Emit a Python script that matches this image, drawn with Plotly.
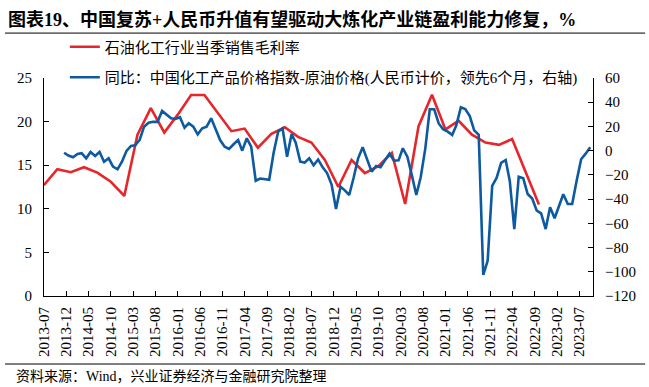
import pandas as pd
import plotly.graph_objects as go

# ---------------- data ----------------
title_text = "图表19、中国复苏+人民币升值有望驱动大炼化产业链盈利能力修复，%"
source_text = "资料来源：Wind，兴业证券经济与金融研究院整理"
red_name = "石油化工行业当季销售毛利率"
blue_name = "同比：中国化工产品价格指数-原油价格(人民币计价，领先6个月，右轴)"

# quarterly gross margin (left axis), 2013Q2 .. 2022Q3
red_quarters = pd.period_range("2013Q2", "2022Q3", freq="Q")
red_values = [12.7, 14.55, 14.2, 14.77, 14.15, 13.1, 11.47, 18.5, 21.55, 18.75,
              20.8, 23.05, 23.05, 21.0, 18.9, 19.2, 17.0, 18.6, 19.35, 18.25,
              17.6, 15.6, 12.5, 15.6, 14.1, 14.9, 16.4, 10.55, 19.44, 23.08,
              19.1, 20.1, 18.5, 17.6, 17.33, 18.0, 14.2, 10.5]

# monthly YoY spread (right axis), 2013-11 .. 2023-09
blue_months = pd.period_range("2013-11", "2023-09", freq="M")
blue_values = [-1.7, -4.0, -5.4, -2.7, -2.1, -6.3, -1.1, -4.4, -1.1, -9.1,
               -6.3, -13.2, -15.4, -9.1, -0.2, 3.9, 4.5, 9.0, 19.8, 23.1,
               23.9, 23.8, 32.8, 29.5, 26.7, 26.2, 27.6, 19.0, 22.6, 19.8,
               13.5, 18.5, 19.8, 26.7, 17.1, 8.8, 3.3, 1.4, 5.3, 8.8,
               0.0, 10.2, 3.3, -24.8, -23.0, -23.5, -24.0, -2.0, 15.7, 18.5,
               -5.0, 13.8, 6.5, -9.0, -9.9, -6.3, -12.0, -7.3, -13.8, -18.5,
               -28.0, -48.2, -29.7, -33.0, -36.6, -22.0, -6.3, 2.8, -6.3, -17.3,
               -12.6, -13.7, -7.7, -2.5, -8.3, -8.0, 2.0, -5.0, -20.0, -36.6,
               -22.0, 1.5, 34.2, 34.2, 22.5, 17.7, 15.7, 13.0, 21.0, 35.8,
               34.3, 28.5, 16.8, 13.0, -102.6, -91.0, -29.0, -22.5, -10.0, -7.7,
               -25.0, -64.7, -21.5, -22.8, -35.8, -39.5, -49.5, -51.7, -64.7, -46.7,
               -55.8, -46.2, -36.0, -44.0, -44.0, -24.5, -7.1, -2.5, 2.8]

tick_labels = ["2013-07", "2013-12", "2014-05", "2014-10", "2015-03", "2015-08",
               "2016-01", "2016-06", "2016-11", "2017-04", "2017-09", "2018-02",
               "2018-07", "2018-12", "2019-05", "2019-10", "2020-03", "2020-08",
               "2021-01", "2021-06", "2021-11", "2022-04", "2022-09", "2023-02",
               "2023-07"]

# ---------------- positions ----------------
red_x = [p.to_timestamp(how="end").normalize() for p in red_quarters]
blue_x = [p.to_timestamp() + pd.Timedelta(days=14) for p in blue_months]
tick_x = [pd.Timestamp(t + "-01") for t in tick_labels]

RED = "#E5262B"
BLUE = "#0D5AA0"
FONT = "Liberation Serif, 'Noto Sans CJK SC', serif"

fig = go.Figure()
fig.add_trace(go.Scatter(x=red_x, y=red_values, mode="lines", name=red_name,
                         line=dict(color=RED, width=2.6), legendgroup="a",
                         yaxis="y"))
fig.add_trace(go.Scatter(x=blue_x, y=blue_values, mode="lines", name=blue_name,
                         line=dict(color=BLUE, width=2.6), legendgroup="b",
                         yaxis="y2"))

axis_common = dict(showline=True, linecolor="black", linewidth=1, ticks="inside",
                   tickcolor="black", ticklen=5, showgrid=False, zeroline=False,
                   automargin=False,
                   tickfont=dict(family=FONT, size=15, color="black"))

fig.update_layout(
    width=649, height=387,
    margin=dict(l=44, r=56, t=78, b=91, pad=0, autoexpand=False),
    paper_bgcolor="white", plot_bgcolor="white",
    font=dict(family=FONT, size=15, color="black"),
    xaxis=dict(type="date", range=["2013-07-01", "2023-10-04"],
               tickmode="array", tickvals=tick_x, ticktext=tick_labels,
               tickangle=-90, ticklabelstandoff=4, **axis_common),
    yaxis=dict(range=[0, 25], dtick=5, tick0=0, ticklabelstandoff=8, **axis_common),
    yaxis2=dict(range=[-120, 60], dtick=20, tick0=0, overlaying="y", side="right",
                ticklabelstandoff=8, **axis_common),
    showlegend=True,
    legend=dict(x=0.038, y=1.218, xanchor="left", yanchor="top",
                bgcolor="rgba(0,0,0,0)", tracegroupgap=8,
                font=dict(family=FONT, size=15, color="black"),
                itemwidth=30),
)

fig.add_annotation(text="<b>" + title_text + "</b>", xref="paper", yref="paper",
                   x=-0.07, y=1.267, xanchor="left", yanchor="middle",
                   showarrow=False, font=dict(family=FONT, size=18, color="black"))
fig.add_annotation(text=source_text, xref="paper", yref="paper",
                   x=-0.055, y=-0.37, xanchor="left", yanchor="middle",
                   showarrow=False, font=dict(family=FONT, size=14, color="black"))
fig.add_shape(type="line", xref="paper", yref="paper", x0=-0.071, x1=1.095,
              y0=1.206, y1=1.206, line=dict(color="black", width=1))
fig.add_shape(type="line", xref="paper", yref="paper", x0=-0.071, x1=1.095,
              y0=-0.312, y1=-0.312, line=dict(color="black", width=1))

fig.write_html("out.html", post_script="document.body.style.margin='0';",
               config={"displayModeBar": False})
